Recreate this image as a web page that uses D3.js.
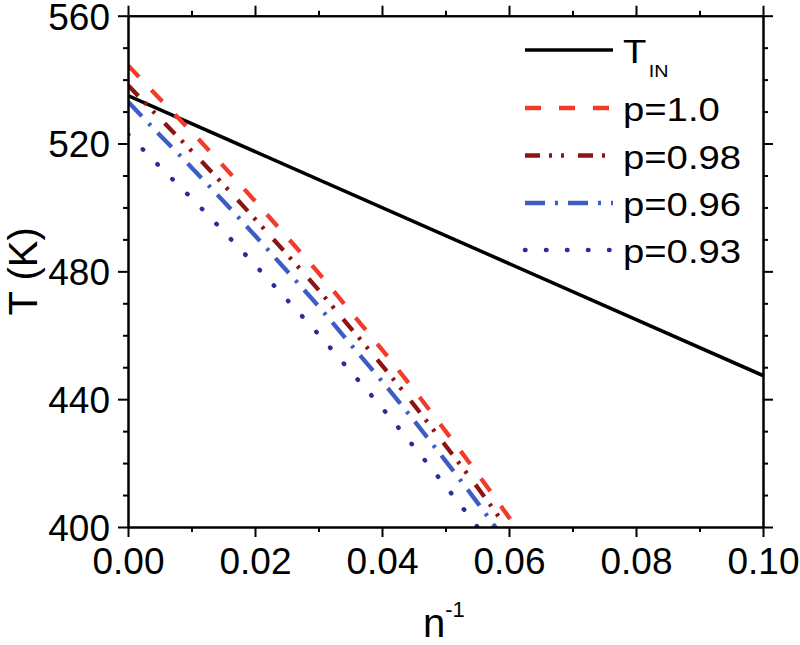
<!DOCTYPE html>
<html>
<head>
<meta charset="utf-8">
<script src="https://cdn.jsdelivr.net/npm/d3@7"></script>
<style>
  html, body { margin: 0; padding: 0; background: #fff; }
  svg { display: block; font-family: "Liberation Sans", Arial, sans-serif; }
</style>
</head>
<body>
<svg id="chart" width="800" height="645"></svg>
<script>
// ---- data ----
const nIn = [0, 0.1];
const tIn = [535, 447.4];

const nInv = [0, 0.005, 0.01, 0.015, 0.02, 0.025, 0.03, 0.035, 0.04, 0.045, 0.05, 0.055, 0.06, 0.065];
const p100 = [544.5, 534.0, 523.7, 513.0, 502.0, 490.8, 479.5, 467.5, 455.5, 443.0, 430.0, 416.8, 403.0, 389.0];
const p098 = [538.3, 527.9, 517.7, 507.2, 496.4, 485.4, 474.2, 462.4, 450.6, 438.3, 425.5, 412.5, 398.8, 385.0];
const p096 = [533.1, 522.7, 512.5, 502.0, 491.2, 480.2, 469.1, 457.3, 445.6, 433.4, 420.7, 407.7, 394.0, 380.0];
const p093 = [522.9, 512.8, 502.9, 492.6, 482.0, 471.2, 460.3, 448.8, 437.3, 425.2, 412.8, 400.1, 386.6, 373.0];

const seriesNames = ["T", "p=1.0", "p=0.98", "p=0.96", "p=0.93"];
const xMajorTicks = [0, 0.02, 0.04, 0.06, 0.08, 0.10];
const xMinorTicks = [0.01, 0.03, 0.05, 0.07, 0.09];
const yMajorTicks = [400, 440, 480, 520, 560];
const yMinorTicks = [410, 420, 430, 450, 460, 470, 490, 500, 510, 530, 540, 550];

// ---- layout ----
const svg = d3.select("#chart");
const L = 128, R = 763, T = 15.7, B = 527;
const x = d3.scaleLinear().domain([0, 0.1]).range([L, R]);
const y = d3.scaleLinear().domain([400, 560]).range([B, T]);

svg.append("defs").append("clipPath").attr("id", "clip")
  .append("rect").attr("x", L).attr("y", T).attr("width", R - L).attr("height", B - T);

const styles = [
  { color: "#000000", width: 3.5, dash: null, cap: "butt" },
  { color: "#f23b28", width: 4.3, dash: "16,18", cap: "butt" },
  { color: "#8e1414", width: 4.3, dash: "15,9,3,9,3,14", cap: "butt" },
  { color: "#3d5cc4", width: 4.3, dash: "20,10,3,10", cap: "butt" },
  { color: "#2b2d96", width: 4.5, dash: "0.5,20.5", cap: "round" }
];

const seriesData = [
  nIn.map((n, i) => [n, tIn[i]]),
  nInv.map((n, i) => [n, p100[i]]),
  nInv.map((n, i) => [n, p098[i]]),
  nInv.map((n, i) => [n, p096[i]]),
  nInv.map((n, i) => [n, p093[i]])
];

const line = d3.line().x(d => x(d[0])).y(d => y(d[1])).curve(d3.curveMonotoneX);

const plot = svg.append("g").attr("clip-path", "url(#clip)");
plot.append("path").datum(seriesData[0])
  .attr("d", line).attr("fill", "none")
  .attr("stroke", styles[0].color).attr("stroke-width", styles[0].width);
for (let i = 4; i >= 1; i--) {
  const s = styles[i];
  plot.append("path").datum(seriesData[i])
    .attr("d", line).attr("fill", "none")
    .attr("stroke", s.color).attr("stroke-width", s.width)
    .attr("stroke-dasharray", s.dash).attr("stroke-linecap", s.cap);
}

// ---- axes ----
function styleAxis(g) {
  g.selectAll("path.domain").attr("stroke", "#000").attr("stroke-width", 2);
  g.selectAll(".tick line").attr("stroke", "#000").attr("stroke-width", 2);
}
const fmtX = d3.format(".2f");

// bottom
const gB = svg.append("g").attr("transform", `translate(0,${B})`);
gB.call(d3.axisBottom(x).tickValues(xMinorTicks).tickSize(5).tickFormat("").tickSizeOuter(0)).call(styleAxis);
const gB2 = svg.append("g").attr("transform", `translate(0,${B})`);
gB2.call(d3.axisBottom(x).tickValues(xMajorTicks).tickSize(10).tickFormat(fmtX).tickSizeOuter(0)).call(styleAxis);
gB2.selectAll(".tick text").attr("y", 47).attr("dy", 0)
  .attr("font-size", 37).attr("fill", "#000").attr("font-family", "Liberation Sans, Arial, sans-serif");

// top
const gT = svg.append("g").attr("transform", `translate(0,${T})`);
gT.call(d3.axisTop(x).tickValues(xMinorTicks).tickSize(5).tickFormat("").tickSizeOuter(0)).call(styleAxis);
const gT2 = svg.append("g").attr("transform", `translate(0,${T})`);
gT2.call(d3.axisTop(x).tickValues(xMajorTicks).tickSize(10).tickFormat("").tickSizeOuter(0)).call(styleAxis);

// left
const gL = svg.append("g").attr("transform", `translate(${L},0)`);
gL.call(d3.axisLeft(y).tickValues(yMinorTicks).tickSize(5).tickFormat("").tickSizeOuter(0)).call(styleAxis);
const gL2 = svg.append("g").attr("transform", `translate(${L},0)`);
gL2.call(d3.axisLeft(y).tickValues(yMajorTicks).tickSize(10).tickPadding(8).tickFormat(d3.format("d")).tickSizeOuter(0)).call(styleAxis);
gL2.selectAll(".tick text").attr("dy", "0.36em")
  .attr("font-size", 37).attr("fill", "#000").attr("font-family", "Liberation Sans, Arial, sans-serif");

// right
const gR = svg.append("g").attr("transform", `translate(${R},0)`);
gR.call(d3.axisRight(y).tickValues(yMinorTicks).tickSize(5).tickFormat("").tickSizeOuter(0)).call(styleAxis);
const gR2 = svg.append("g").attr("transform", `translate(${R},0)`);
gR2.call(d3.axisRight(y).tickValues(yMajorTicks).tickSize(10).tickFormat("").tickSizeOuter(0)).call(styleAxis);

// axis titles
svg.append("text")
  .attr("transform", `translate(37,${(T + B) / 2}) rotate(-90)`)
  .attr("text-anchor", "middle").attr("font-size", 40).attr("fill", "#000")
  .text("T (K)");

const xt = svg.append("text").attr("x", 423).attr("y", 637).attr("font-size", 40).attr("fill", "#000");
xt.append("tspan").text("n");
xt.append("tspan").attr("font-size", 22).attr("dy", -20).text("-1");

// ---- legend ----
const legY = [50, 108, 155.5, 203, 250];
const leg = svg.append("g");
seriesNames.forEach((name, i) => {
  const s = styles[i];
  leg.append("line")
    .attr("x1", 525).attr("x2", 613).attr("y1", legY[i]).attr("y2", legY[i])
    .attr("stroke", s.color).attr("stroke-width", s.width)
    .attr("stroke-dasharray", s.dash).attr("stroke-linecap", s.cap);
  const t = leg.append("text")
    .attr("transform", `translate(623,${legY[i] + 13}) scale(1.16,1)`)
    .attr("font-size", 33).attr("fill", "#000");
  t.append("tspan").text(name);
  if (i === 0) {
    t.append("tspan").attr("font-size", 17).attr("dy", 14).attr("dx", 2).text("IN");
  }
});
</script>
</body>
</html>
